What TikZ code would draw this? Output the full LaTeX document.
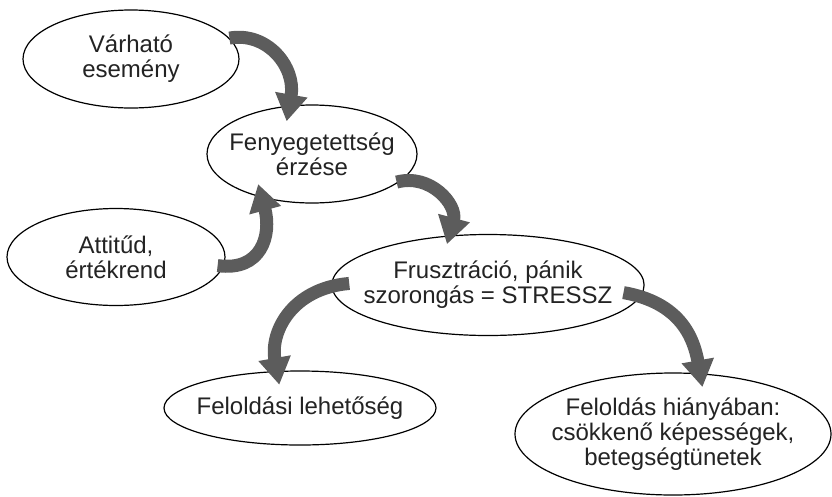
\documentclass[tikz,border=0pt]{standalone}
\usepackage{fontspec}
\setmainfont{Liberation Sans}
\usetikzlibrary{positioning, arrows.meta, shapes.geometric}
\definecolor{arrowgray}{RGB}{92,92,92}
\definecolor{textgray}{RGB}{35,35,35}

\begin{document}
\begin{tikzpicture}[x=1pt, y=1pt,
     node distance = 4mm and 4mm,
        ell/.style = {ellipse, draw, line width=1.2pt, fill=white,
                      inner xsep=-14pt, inner ysep=0pt, align=center,
                      text=textgray, font=\fontsize{24}{25}\selectfont},
      curly/.style = {draw=arrowgray, line width=13pt,
                      -{Triangle[width=31pt,length=27pt]}}
                        ]
\useasboundingbox (0,0) rectangle (832,-496);
\node (event)    [ell, minimum width=216pt, minimum height=98pt]  at (131,-59)  {Várható\\esemény};
\node (threat)   [ell, minimum width=210pt, minimum height=98pt]  at (312,-154) {Fenyegetettség\\érzése};
\node (attitude) [ell, minimum width=218pt, minimum height=97pt]  at (116,-257) {Attitűd,\\értékrend};
\node (stress)   [ell, minimum width=310pt, minimum height=101pt] at (488,-285) {Frusztráció, pánik\\szorongás = STRESSZ};
\node (relief)   [ell, minimum width=272pt, minimum height=74pt]  at (300,-408) {Feloldási lehetőség};
\node (norelief) [ell, minimum width=316pt, minimum height=122pt] at (673,-434) {Feloldás hiányában:\\csökkenő képességek,\\betegségtünetek};
\draw[curly, shorten >=-16pt] (event.12) to[out=10, in=80, looseness=1.1] (threat.115);
\draw[curly, shorten <=-6pt, shorten >=-14pt] (attitude.-5) to[out=-8, in=-75, looseness=1.25] (threat.221);
\draw[curly, shorten <=-4pt, shorten >=-9pt] (threat.-17) to[out=15, in=75, looseness=1.1] (stress.128);
\draw[curly, shorten <=-18pt, shorten >=-14pt] (stress.180) to[out=185, in=100] (relief.122);
\draw[curly, shorten <=-18pt, shorten >=-14pt] (stress.-4) to[out=-10, in=100] (norelief.66);
\end{tikzpicture}
\end{document}
